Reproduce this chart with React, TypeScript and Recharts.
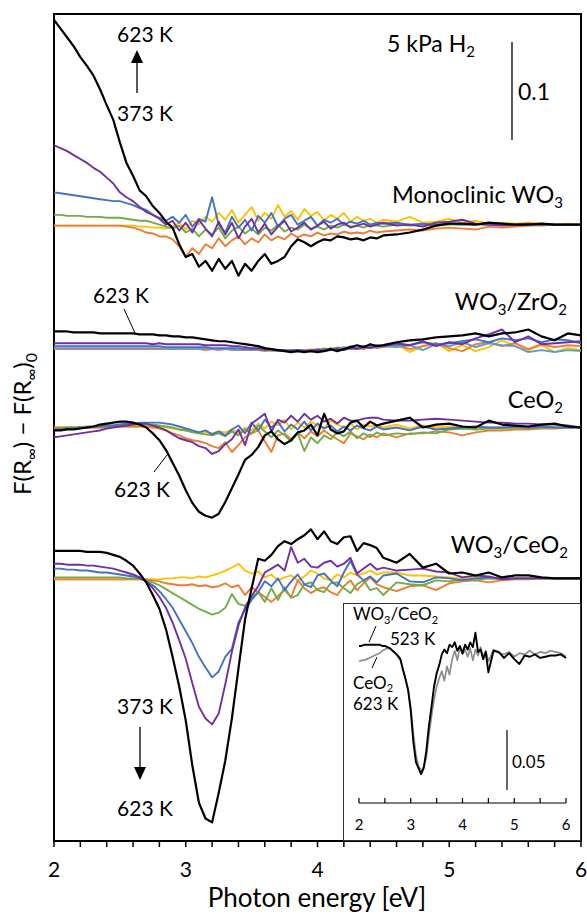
import React from "react";
import { LineChart, Line, XAxis, YAxis, ReferenceArea } from "recharts";

// photon energy grid [eV]
const energy = [
  2.0, 2.05, 2.1, 2.15, 2.2, 2.25, 2.3, 2.35, 2.4, 2.45,
  2.5, 2.55, 2.6, 2.65, 2.7, 2.75, 2.8, 2.85, 2.9, 2.95,
  3.0, 3.05, 3.1, 3.15, 3.2, 3.25, 3.3, 3.35, 3.4, 3.45,
  3.5, 3.55, 3.6, 3.65, 3.7, 3.75, 3.8, 3.85, 3.9, 3.95,
  4.0, 4.05, 4.1, 4.15, 4.2, 4.25, 4.3, 4.35, 4.4, 4.45,
  4.5, 4.6, 4.7, 4.8, 4.9, 5.0, 5.1, 5.2, 5.3, 5.4, 5.5, 5.6, 5.7, 5.8, 5.9, 6.0,
];

const mainTicks = [2, 2.2, 2.4, 2.6, 2.8, 3, 3.2, 3.4, 3.6, 3.8, 4, 4.2, 4.4, 4.6, 4.8, 5, 5.2, 5.4, 5.6, 5.8, 6];
const insetTicks = [2, 2.5, 3, 3.5, 4, 4.5, 5, 5.5, 6];

// vertical offsets of the stacked spectra (units of 1e-3)
const offsetMonoclinic = 629;
const offsetZrO2 = 503;
const offsetCeO2 = 422;
const offsetWCe = 268;
const offsetInset = 122;

// difference spectra, units of 1e-3, relative to each stack offset
// --- Monoclinic WO3
const m373 = [
  -1, -1, -1, -1, -1, -1, -1, -1, -1, -1,
  -1, -1, -1, -2, -2, -3, -3, -4, -2, 2,
  -5, 4, 0, 8, 3, 12, 5, 15, 2, 10,
  18, 4, 12, 6, 20, 8, 14, 5, 16, 9,
  13, 4, 10, 6, 12, 3, 8, 4, 6, 2,
  5, 3, 8, 2, 3, 6, 2, 4, 1, 2, 1, 2, 1, 0, 1, 0,
];
const m423 = [
  -1, -1, -1, -1, -1, -1, -1, -1, -1, -1,
  -1, -2, -3, -5, -8, -9, -12, -12, -15, -22,
  -33, -24, -30, -20, -24, -14, -22, -16, -12, -20,
  -14, -18, -10, -16, -12, -15, -9, -13, -10, -12,
  -8, -11, -9, -10, -7, -9, -8, -9, -6, -8,
  -7, -6, -5, -6, -4, -3, -4, -5, -2, -3, -2, -1, -1, 0, 0, 0,
];
const m473 = [
  10, 10, 9, 9, 9, 8, 8, 8, 7, 7,
  7, 6, 5, 4, 4, 2, 0, -2, -4, -1,
  -8, -4, -12, -5, -10, -3, -14, -6, -2, -9,
  -4, -10, -3, -6, 0, -7, -3, -5, 0, -4,
  -2, -5, -1, -3, 0, -2, -1, -3, 0, -1,
  -2, 0, -1, 0, -1, 0, 0, 0, 0, 0, 0, 0, 0, 0, 0, 0,
];
const m523 = [
  33, 32, 31, 30, 29, 28, 27, 26, 25, 24,
  24, 22, 20, 17, 15, 10, 7, 4, 8, 2,
  10, -2, 6, 3, 28, 0, -8, 8, -3, 5,
  -6, 9, 2, 12, -2, 6, 10, 0, 4, 8,
  -1, 5, 2, 6, 0, 3, 1, 4, 0, 2,
  1, 2, 0, 1, 0, 1, 0, 1, 0, 0, 0, 0, 0, 0, 0, 0,
];
const m573 = [
  81, 78, 75, 71, 67, 63, 58, 54, 48, 42,
  33, 28, 24, 18, 13, 10, 6, 0, 4, -6,
  2, -8, 5, -4, -12, 3, -10, 2, -14, -2,
  6, -8, 1, -10, -2, 4, -7, -3, 2, -5,
  -1, 3, -4, 0, 2, -3, -1, 1, -2, 0,
  2, -1, 0, -2, 2, 3, 5, 1, 0, -1, 0, 1, 0, 0, 0, 0,
];
const m623 = [
  209, 200, 191, 182, 171, 162, 152, 138, 122, 107,
  84, 63, 50, 35, 29, 19, 12, 3, -3, -20,
  -33, -30, -43, -37, -47, -35, -45, -37, -52, -40,
  -47, -37, -30, -40, -37, -33, -22, -15, -18, -22,
  -18, -15, -16, -12, -13, -15, -14, -16, -13, -14,
  -11, -10, -8, -5, -1, 1, 1, 0, 2, 1, 0, 0, 1, 0, 0, 0,
];

// --- WO3/ZrO2
const z373 = [
  -1, -1, -1, -1, -1, -1, -1, -1, -1, -1,
  -1, -1, -1, -1, -1, -1, -1, -1, -1, -1,
  -1, -1, -1, -1, -1, -1, -1, -1, -1, -2,
  -2, -2, -2, -3, -2, -3, -2, -3, -2, -1,
  -2, 0, -1, 1, 0, 2, 0, 1, 3, 1,
  2, 4, -4, 2, 5, -3, 3, -3, 1, 8, 2, -2, 3, -4, 0, -2,
];
const z423 = [
  -1, -1, -1, -1, -1, -1, -1, -1, -1, -1,
  -1, -1, -1, -1, -1, -1, -1, -1, -1, -1,
  -1, -1, -1, -2, -1, -2, -1, -2, -2, -2,
  -2, -2, -3, -2, -3, -3, -2, -3, -2, -2,
  -1, -2, -1, 0, -1, 1, 0, -1, 2, 0,
  1, 3, -1, 2, 5, 0, -3, 4, 6, 2, 5, -1, 4, 1, 3, 2,
];
const z473 = [
  0, 0, 0, 0, 0, 0, 0, 0, 0, 0,
  0, 0, 0, 0, 0, 0, 0, 0, -1, 0,
  -1, 0, -1, 0, -1, -1, -1, -1, -2, -1,
  -2, -1, -2, -2, -3, -2, -3, -2, -2, -3,
  -1, -2, 0, -1, 1, -1, 0, 2, 0, 1,
  2, 1, 3, -2, 4, 2, 6, 1, 5, 3, 2, -4, -2, -4, -2, -3,
];
const z523 = [
  2, 2, 2, 2, 2, 2, 2, 2, 2, 2,
  2, 2, 2, 2, 2, 2, 2, 1, 1, 1,
  1, 1, 1, 1, 0, 0, 0, 0, 0, -1,
  -1, -1, -2, -2, -2, -3, -2, -2, -3, -2,
  -2, -1, -2, 0, -1, 1, 0, 2, 1, 3,
  2, 4, 3, 6, 4, 5, 7, 9, 6, 10, 8, 10, 6, 9, 8, 5,
];
const z573 = [
  5, 5, 5, 5, 5, 5, 5, 5, 5, 5,
  5, 5, 5, 5, 5, 4, 5, 4, 4, 4,
  4, 4, 4, 3, 3, 3, 3, 2, 2, 1,
  0, 0, -1, -1, -2, -2, -3, -2, -3, -3,
  -2, -3, -2, -1, -2, 0, -1, 1, 0, 2,
  2, 5, 3, 7, 2, 6, 4, 10, 14, 19, 6, 12, 4, 5, 6, 7,
];
const z623 = [
  17, 17, 17, 16, 16, 16, 16, 15, 15, 15,
  15, 15, 15, 14, 14, 14, 13, 13, 12, 12,
  11, 11, 10, 9, 8, 7, 7, 6, 5, 4,
  3, 2, 0, -1, -2, -3, -4, -3, -4, -3,
  -4, -3, -1, -3, -1, 1, 3, 1, 4, 2,
  3, 6, 8, 9, 11, 12, 13, 15, 12, 15, 16, 19, 12, 8, 15, 13,
];

// --- CeO2
const c373 = [
  0, 0, 0, 0, 0, 0, 0, 0, 1, 1,
  1, 1, 1, 1, 1, 1, 0, 0, -1, -2,
  -3, -4, -5, -5, -6, -4, -5, -2, -6, 0,
  -3, 4, -1, 6, 2, 8, -2, 5, 0, 6,
  2, -1, 7, 3, 0, 4, -2, 3, 1, 2,
  0, 3, -1, 2, 0, 1, 0, 1, 0, 0, 0, 0, 0, 0, 0, 0,
];
const c423 = [
  0, 0, 0, 0, 0, 0, 0, 0, 0, 1,
  1, 1, 1, 1, 1, 0, -1, -3, -6, -8,
  -11, -13, -14, -16, -19, -21, -15, -25, -18, -10,
  -6, -3, -14, -25, -8, -6, -12, -5, -11, -4,
  -9, -3, -8, -12, -16, -6, -9, -12, -7, -10,
  -6, -10, -6, -6, -4, -5, -8, -5, -3, -3, -2, -2, -1, -1, 0, 0,
];
const c473 = [
  -1, -1, 0, 0, 0, 1, 1, 1, 2, 2,
  3, 3, 3, 3, 3, 3, 2, 1, 0, -2,
  -3, -5, -6, -7, -8, -6, -9, -4, -8, -2,
  -6, 2, -4, -10, -3, -8, -14, -6, -24, -10,
  -16, -8, -12, -5, -9, -4, -11, -6, -10, -5,
  -8, -6, -7, -5, -6, -2, -1, -2, -1, -1, 0, -1, 0, 0, 0, 0,
];
const c523 = [
  -2, -2, -1, -1, 0, 0, 1, 1, 2, 2,
  3, 4, 4, 5, 5, 5, 5, 4, 3, 1,
  -1, -3, -5, -3, -7, -4, -8, -2, 2, -6,
  5, -3, 8, 0, 6, -4, 3, -2, 6, -3,
  4, -1, 2, -4, 1, -3, 2, -1, -3, 1,
  -2, 0, -3, 1, -2, -1, 0, 1, 0, 0, 1, 0, 1, 0, 0, 0,
];
const c573 = [
  -10, -9, -8, -7, -6, -5, -4, -3, -1, 0,
  1, 2, 3, 4, 4, 2, 0, -3, -7, -11,
  -13, -15, -19, -21, -27, -24, -17, -12, -2, -18,
  4, 9, 14, -4, 8, 5, 12, 6, 14, 8,
  12, 6, 9, 4, 10, 7, 7, 9, 10, 10,
  8, 7, 7, 8, 9, 8, 7, 6, 5, 5, 4, 4, 3, 3, 2, 0,
];
const c623 = [
  -3, -3, -2, -2, -1, 0, 1, 3, 4, 5,
  6, 6, 5, 3, 0, -6, -13, -23, -36, -49,
  -64, -77, -86, -90, -92, -88, -76, -62, -48, -33,
  -28, -20, -8, -4, -12, -17, -13, -5, -3, 3,
  -8, 14, -2, -6, -4, 5, 7, 0, 6, 2,
  4, 7, 10, 0, 3, 4, 1, 0, 7, 3, 2, 1, 3, 4, 1, 0,
];

// --- WO3/CeO2
const w373 = [
  -1, -1, -1, -1, -1, -1, -1, -1, -1, -1,
  -1, -1, -1, -1, -1, -1, -1, 0, 0, 1,
  1, 0, 2, 1, 3, 5, 8, 11, 15, 8,
  5, 7, 1, 4, -2, 1, 3, -2, 2, 8,
  5, 0, -2, 4, 1, 6, 3, 5, 8, 4,
  6, 6, 3, 3, 2, 1, 0, 1, 0, 0, 0, 0, 0, 0, 0, 0,
];
const w423 = [
  -1, -1, -1, -1, -1, -1, -1, -1, -1, -1,
  -1, -1, -1, -1, -1, -2, -3, -5, -6, -7,
  -7, -6, -8, -7, -9, -8, -5, -9, -7, -17,
  -9, -14, -19, -24, -18, -12, -19, -2, -10, -15,
  -11, -9, -14, -17, -8, -2, -12, -5, 1, -6,
  -9, -13, -8, -7, -12, -5, -3, -2, -4, -2, -1, -1, 0, 0, 0, 0,
];
const w473 = [
  1, 1, 1, 1, 1, 1, 1, 1, 1, 1,
  1, 0, 0, 0, -2, -4, -7, -11, -15, -19,
  -23, -27, -31, -34, -37, -35, -30, -16, -26, -28,
  -20, -14, -24, -10, -22, -9, -20, -17, -6, -4,
  -12, -14, -5, -4, -10, -15, -6, -2, -12, -10,
  -17, -4, -6, -7, -2, -3, -1, -2, 0, -1, 0, 0, 0, 0, 0, 0,
];
const w523 = [
  10, 10, 9, 9, 8, 8, 7, 6, 6, 5,
  4, 3, 2, 0, -3, -7, -13, -21, -30, -42,
  -54, -66, -80, -91, -101, -95, -80, -72, -45, -32,
  -22, -14, -3, -8, 0, -12, -3, 4, -6, -9,
  3, 5, -2, -8, 6, 18, 4, -2, 2, -4,
  3, 5, -3, -4, 1, 0, -2, 0, 1, 0, 0, 0, 0, 0, 0, 0,
];
const w573 = [
  15, 15, 14, 14, 14, 13, 13, 12, 11, 10,
  8, 6, 4, 1, -3, -10, -19, -30, -45, -63,
  -82, -107, -131, -143, -149, -138, -108, -75, -48, -30,
  -18, -8, 6, 10, 14, 8, 32, 16, 20, 12,
  11, 16, 18, 12, 15, 21, 5, 10, 15, 9,
  11, 8, 9, 10, 7, 6, 1, 3, 2, -1, 0, 0, 0, 0, 0, 0,
];
const w623 = [
  28, 28, 28, 28, 28, 27, 27, 27, 26, 24,
  22, 18, 13, 5, -4, -17, -31, -52, -80, -110,
  -145, -191, -229, -245, -249, -219, -186, -143, -92, -42,
  -10, 20, 18, 24, 33, 38, 35, 40, 44, 50,
  40, 48, 38, 35, 42, 43, 28, 36, 34, 31,
  21, 16, 25, 11, 15, 5, 6, 3, 6, 1, 3, 3, 1, 0, 0, 0,
];

// --- inset: WO3/CeO2 at 523 K vs CeO2 at 623 K
const insetWCe523 = [
  9, 9, 10, 10, 10, 10, 10, 10, 10, 9,
  9, 8, 7, 5, 3, 1, -2, -11, -19, -28,
  -45, -71, -88, -93, -98, -93, -79, -58, -42, -25,
  -14, -7, 2, 6, 3, 10, 8, 12, 5, 9,
  3, 10, 6, 12, 8, 20, 4, 6, -2, 4,
  -13, 5, 4, -1, 3, -2, -6, 1, 0, 2, -1, 0, 1, 1, 2, -1,
];
const insetCe623 = [
  -4, -3, -3, -2, -1, 0, 1, 2, 3, 5,
  6, 7, 7, 5, 3, 0, -3, -10, -18, -28,
  -42, -64, -82, -91, -95, -92, -84, -66, -50, -36,
  -25, -18, -12, -20, -8, -15, -2, 5, -3, 8,
  2, 6, 0, 7, -3, 6, 1, 8, 0, 5,
  -4, 6, 3, 2, 4, 0, 3, 2, 5, 2, 4, 3, 5, 4, 3, 0,
];

const YELLOW = "#FFC000";
const ORANGE = "#ED7D31";
const GREEN = "#70AD47";
const BLUE = "#4472C4";
const LIGHT_BLUE = "#5B9BD5";
const PURPLE = "#7030A0";
const BLACK = "#000000";
const FONT = "Lato, 'Open Sans', sans-serif";

const panels = [
  { name: "mono", offset: offsetMonoclinic, series: [
    { t: 373, color: YELLOW, values: m373 }, { t: 423, color: ORANGE, values: m423 },
    { t: 473, color: GREEN, values: m473 }, { t: 523, color: BLUE, values: m523 },
    { t: 573, color: PURPLE, values: m573 }, { t: 623, color: BLACK, values: m623 },
  ] },
  { name: "zr", offset: offsetZrO2, series: [
    { t: 373, color: YELLOW, values: z373 }, { t: 423, color: ORANGE, values: z423 },
    { t: 473, color: LIGHT_BLUE, values: z473 }, { t: 523, color: BLUE, values: z523 },
    { t: 573, color: PURPLE, values: z573 }, { t: 623, color: BLACK, values: z623 },
  ] },
  { name: "ce", offset: offsetCeO2, series: [
    { t: 373, color: YELLOW, values: c373 }, { t: 423, color: ORANGE, values: c423 },
    { t: 473, color: GREEN, values: c473 }, { t: 523, color: BLUE, values: c523 },
    { t: 573, color: PURPLE, values: c573 }, { t: 623, color: BLACK, values: c623 },
  ] },
  { name: "wce", offset: offsetWCe, series: [
    { t: 373, color: YELLOW, values: w373 }, { t: 423, color: ORANGE, values: w423 },
    { t: 473, color: GREEN, values: w473 }, { t: 523, color: BLUE, values: w523 },
    { t: 573, color: PURPLE, values: w573 }, { t: 623, color: BLACK, values: w623 },
  ] },
];

const toPoints = (offset: number, values: number[]) =>
  energy.map((x, i) => ({ x, y: offset + values[i] }));

const isInt = (v: number) => Math.abs(v - Math.round(v)) < 1e-6;

// "_x" parts are subscripts
function rich(parts: string[], subSize: number, shift: number) {
  let down = false;
  return parts.map((p, i) => {
    const s = p.startsWith("_");
    const dy = s && !down ? shift : !s && down ? -shift : 0;
    down = s;
    return (
      <tspan key={i} dy={dy} fontSize={s ? subSize : undefined}>
        {s ? p.slice(1) : p}
      </tspan>
    );
  });
}

const MainTick = ({ x, y, payload }: any) => {
  if (!isInt(payload.value)) return <g />;
  return (
    <text x={x} y={y + 30} textAnchor="middle" fontFamily={FONT} fontSize={21} fill="#000">
      {Math.round(payload.value)}
    </text>
  );
};

const InsetTick = ({ x, y, payload }: any) => (
  <g>
    <line x1={x} x2={x} y1={y} y2={y - 5} stroke="#000" strokeWidth={1.2} />
    {isInt(payload.value) && (
      <text x={x} y={y + 27} textAnchor="middle" fontFamily={FONT} fontSize={15} fill="#000">
        {Math.round(payload.value)}
      </text>
    )}
  </g>
);

export default function App() {
  return (
    <div style={{ position: "absolute", left: 0, top: 0, width: 587, height: 916, background: "#fff" }}>
      <LineChart width={587} height={916} margin={{ top: 14, right: 6, bottom: 0, left: 54 }}>
        <XAxis
          type="number"
          dataKey="x"
          domain={[2, 6]}
          ticks={mainTicks}
          interval={0}
          height={75}
          tickSize={6}
          tickMargin={0}
          axisLine={{ stroke: "#000", strokeWidth: 2 }}
          tickLine={{ stroke: "#000", strokeWidth: 1.5 }}
          tick={<MainTick />}
          allowDataOverflow
        />
        <YAxis type="number" domain={[0, 844]} hide allowDataOverflow />
        <ReferenceArea x1={2} x2={6} y1={0} y2={844} fill="none" fillOpacity={0} stroke="#000" strokeWidth={2} />
        {panels.flatMap((p) =>
          p.series.map((s) => (
            <Line
              key={p.name + s.t}
              data={toPoints(p.offset, s.values)}
              dataKey="y"
              type="linear"
              stroke={s.color}
              strokeWidth={s.color === BLACK ? 2.2 : 1.9}
              strokeLinejoin="round"
              dot={false}
              activeDot={false}
              isAnimationActive={false}
            />
          ))
        )}
      </LineChart>

      <div
        style={{
          position: "absolute", left: 343, top: 603, width: 238, height: 238,
          boxSizing: "border-box", border: "1px solid #333", background: "#fff",
        }}
      >
        <LineChart width={236} height={236} margin={{ top: 0, right: 14, bottom: 0, left: 15 }}>
          <XAxis
            type="number"
            dataKey="x"
            domain={[2, 6]}
            ticks={insetTicks}
            interval={0}
            height={37}
            tickSize={0}
            tickMargin={0}
            tickLine={false}
            axisLine={{ stroke: "#000", strokeWidth: 1.2 }}
            tick={<InsetTick />}
          />
          <YAxis type="number" domain={[0, 166]} hide allowDataOverflow />
          <Line data={toPoints(offsetInset, insetCe623)} dataKey="y" type="linear" stroke="#8c8c8c" strokeWidth={1.7}
            strokeLinejoin="round" dot={false} activeDot={false} isAnimationActive={false} />
          <Line data={toPoints(offsetInset, insetWCe523)} dataKey="y" type="linear" stroke="#000" strokeWidth={1.9}
            strokeLinejoin="round" dot={false} activeDot={false} isAnimationActive={false} />
        </LineChart>
      </div>

      <svg width={587} height={916} style={{ position: "absolute", left: 0, top: 0, pointerEvents: "none" }}
        fontFamily={FONT} fill="#000">
        {/* axis titles */}
        <text x={317} y={907} textAnchor="middle" fontSize={26}>Photon energy [eV]</text>
        <text x={31} y={424} textAnchor="middle" fontSize={24} transform="rotate(-90 31 424)">
          {rich(["F(R", "_∞", ") − F(R", "_∞", ")", "_0"], 16, 6)}
        </text>

        {/* top annotations */}
        <text x={145} y={42} textAnchor="middle" fontSize={21}>623 K</text>
        <line x1={137} y1={93} x2={137} y2={62} stroke="#000" strokeWidth={1.3} />
        <polygon points="137,50 131,63 143,63" fill="#000" />
        <text x={145} y={121} textAnchor="middle" fontSize={21}>373 K</text>
        <text x={387} y={52} fontSize={23}>{rich(["5 kPa H", "_2"], 15, 5)}</text>
        <line x1={512} y1={42} x2={512} y2={140} stroke="#000" strokeWidth={1.3} />
        <text x={518} y={100} fontSize={23}>0.1</text>

        {/* panel labels */}
        <text x={563} y={203} textAnchor="end" fontSize={23.5}>{rich(["Monoclinic WO", "_3"], 15, 5)}</text>
        <text x={567} y={310} textAnchor="end" fontSize={23.5}>{rich(["WO", "_3", "/ZrO", "_2"], 15, 5)}</text>
        <text x={563} y={408} textAnchor="end" fontSize={23.5}>{rich(["CeO", "_2"], 15, 5)}</text>
        <text x={568} y={553} textAnchor="end" fontSize={23.5}>{rich(["WO", "_3", "/CeO", "_2"], 15, 5)}</text>

        <text x={121} y={303} textAnchor="middle" fontSize={21}>623 K</text>
        <line x1={124} y1={309} x2={135} y2={333} stroke="#000" strokeWidth={1} />
        <text x={142} y={497} textAnchor="middle" fontSize={21}>623 K</text>
        <line x1={154} y1={472} x2={167} y2={455} stroke="#000" strokeWidth={1} />

        <text x={145} y={714} textAnchor="middle" fontSize={21}>373 K</text>
        <line x1={140} y1={727} x2={140} y2={768} stroke="#000" strokeWidth={1.3} />
        <polygon points="140,780 134,767 146,767" fill="#000" />
        <text x={145} y={816} textAnchor="middle" fontSize={21}>623 K</text>

        {/* inset annotations */}
        <text x={353} y={620} fontSize={17}>{rich(["WO", "_3", "/CeO", "_2"], 11, 4)}</text>
        <text x={390} y={645} fontSize={17}>523 K</text>
        <line x1={376} y1={626} x2={369} y2={642} stroke="#000" strokeWidth={1} />
        <text x={353} y={689} fontSize={17}>{rich(["CeO", "_2"], 11, 3)}</text>
        <text x={353} y={710} fontSize={17}>623 K</text>
        <line x1={372} y1={668} x2={377} y2={657} stroke="#000" strokeWidth={1} />
        <line x1={507} y1={730} x2={507} y2={790} stroke="#000" strokeWidth={1.2} />
        <text x={512} y={768} fontSize={17}>0.05</text>
      </svg>
    </div>
  );
}
